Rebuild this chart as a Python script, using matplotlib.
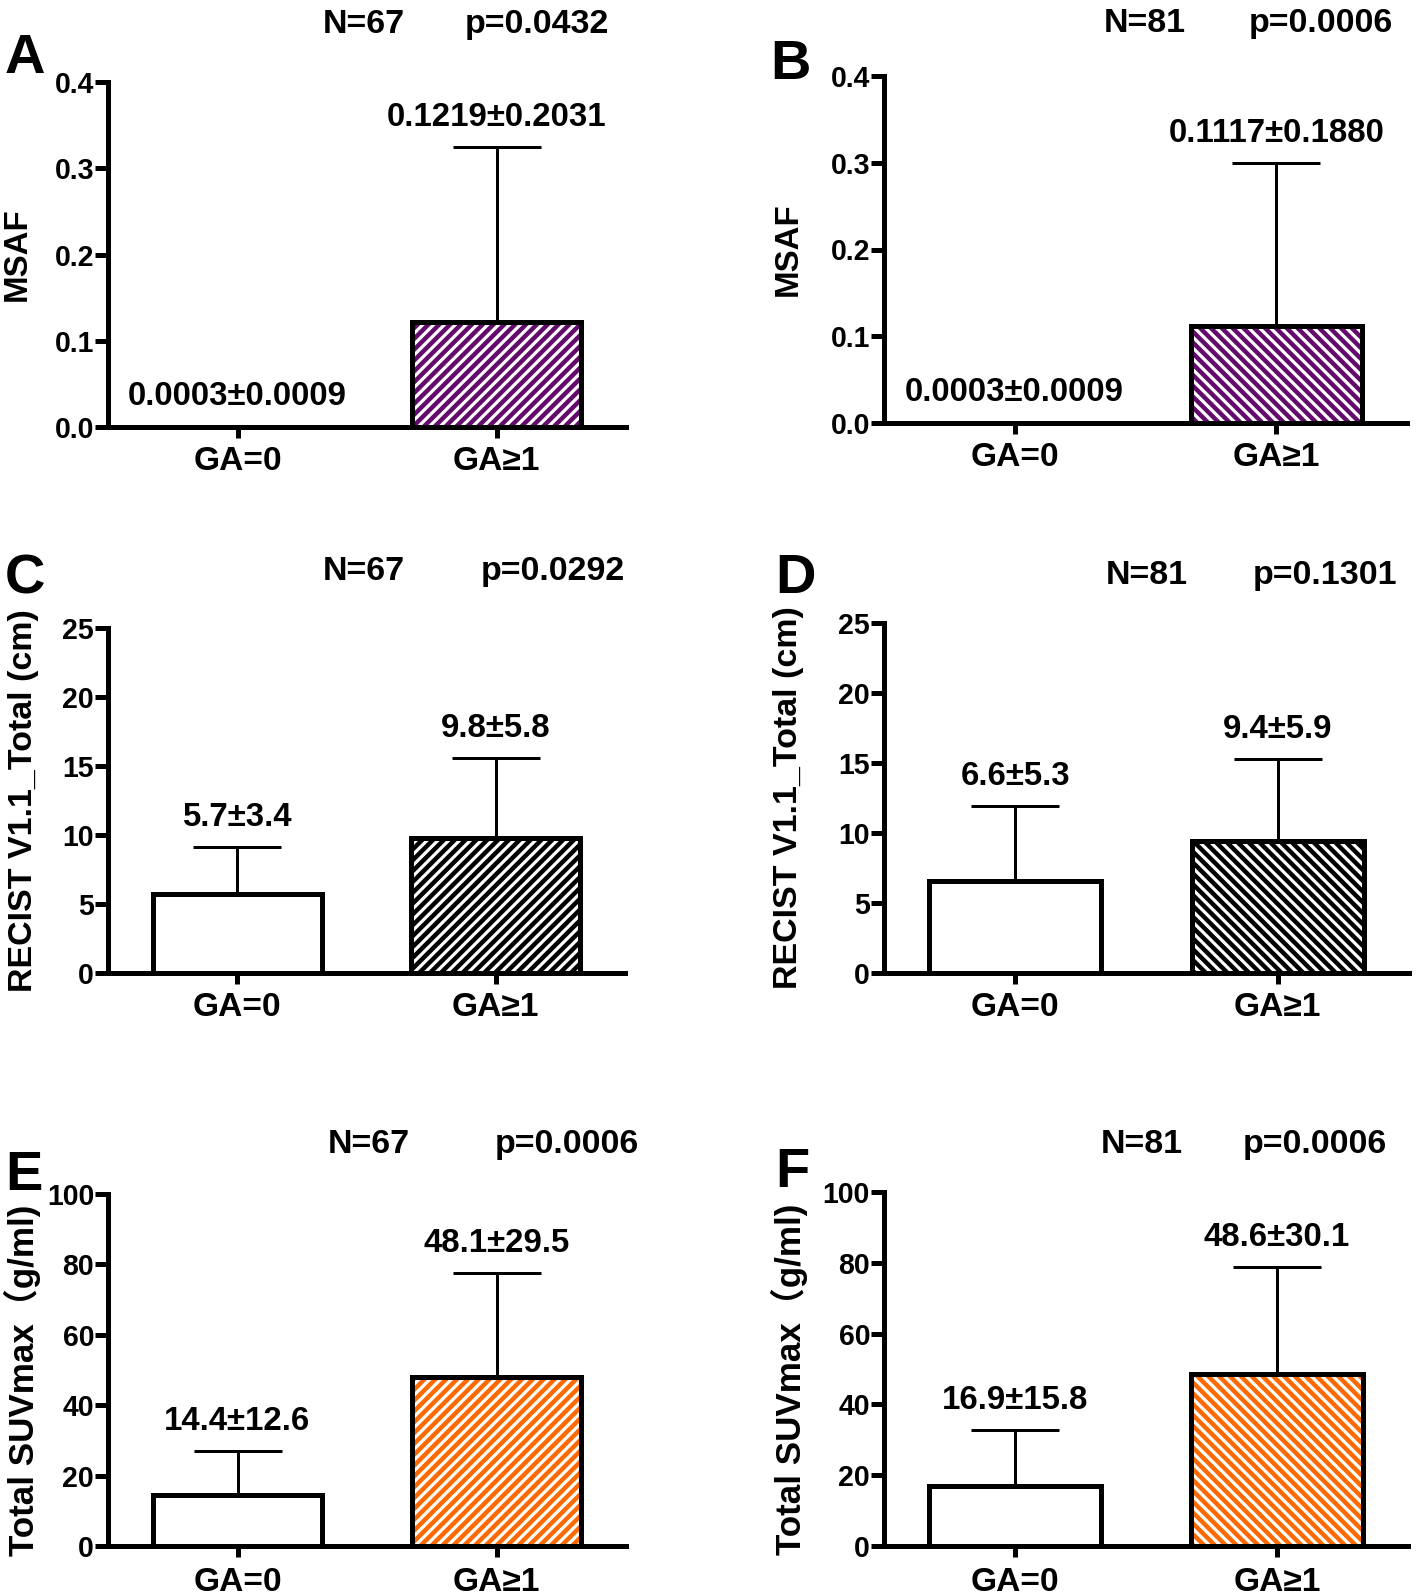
import numpy as np
import matplotlib
matplotlib.use("Agg")
import matplotlib.pyplot as plt

# Data
groups = ["GA=0", "GA\u22651"]

msaf_67_mean = [0.0003, 0.1219]
msaf_67_sd = [0.0009, 0.2031]
msaf_81_mean = [0.0003, 0.1117]
msaf_81_sd = [0.0009, 0.1880]

recist_67_mean = [5.7, 9.8]
recist_67_sd = [3.4, 5.8]
recist_81_mean = [6.6, 9.4]
recist_81_sd = [5.3, 5.9]

suv_67_mean = [14.4, 48.1]
suv_67_sd = [12.6, 29.5]
suv_81_mean = [16.9, 48.6]
suv_81_sd = [15.8, 30.1]

n_values = [67, 81, 67, 81, 67, 81]
p_values = ["0.0432", "0.0006", "0.0292", "0.1301", "0.0006", "0.0006"]

DPI = 130
W, H = 1418, 1595


def pt(v):
    # pixel size -> points
    return v * 72 / DPI


plt.rcParams['font.family'] = ['Liberation Sans', 'Noto Sans CJK SC', 'DejaVu Sans']
plt.rcParams['font.weight'] = 'bold'
plt.rcParams['hatch.linewidth'] = pt(3.2)

fig = plt.figure(figsize=(W / DPI, H / DPI), dpi=DPI)

# (left, right, top, bottom) in pixels
boxes = [(108, 626, 82, 427), (884, 1407, 76, 423),
         (108, 625, 628, 973), (884, 1409, 623, 973),
         (108, 626, 1194, 1546), (884, 1408, 1192, 1546)]

panels = [
    ("A", msaf_67_mean, msaf_67_sd, "MSAF", 0.4, 0.1, "#650a6d", "////", "{:.4f}"),
    ("B", msaf_81_mean, msaf_81_sd, "MSAF", 0.4, 0.1, "#650a6d", "\\\\\\\\", "{:.4f}"),
    ("C", recist_67_mean, recist_67_sd, "RECIST V1.1_Total (cm)", 25, 5, "black", "////", "{:.1f}"),
    ("D", recist_81_mean, recist_81_sd, "RECIST V1.1_Total (cm)", 25, 5, "black", "\\\\\\\\", "{:.1f}"),
    ("E", suv_67_mean, suv_67_sd, "Total SUVmax\uff08g/ml)", 100, 20, "#ff6a00", "////", "{:.1f}"),
    ("F", suv_81_mean, suv_81_sd, "Total SUVmax\uff08g/ml)", 100, 20, "#ff6a00", "\\\\\\\\", "{:.1f}"),
]

# title positions: N centre x, p centre x, baseline y (pixels)
title_pos = [(364, 537, 33), (1145, 1321, 32),
             (364, 553, 580), (1147, 1325, 584),
             (369, 567, 1153), (1142, 1315, 1153)]
letter_pos = [(5, 33), (770, 39), (5, 553), (775, 553), (5, 1150), (775, 1147)]
ylabel_gap = [75, 80, 69, 80, 67, 76]
ylabel_size = [33, 33, 34, 34, 35, 35]
ylabel_y = [0.5, 0.5, 0.5, 0.5, 0.47, 0.47]
xlabel_pad = [8, 8, 8, 8, 10, 10]

x = np.arange(len(groups))
bar_w = 0.655

for i, (letter, mean, sd, ylab, ymax, ystep, color, hatch, fmt) in enumerate(panels):
    l, r, t, b = boxes[i]
    ax = fig.add_axes([l / W, 1 - b / H, (r - l) / W, (b - t) / H])

    # GA=0 plain white, GA>=1 hatched
    ax.bar(x[1], mean[1], width=bar_w, color=color, edgecolor="white",
           hatch=hatch, linewidth=0, zorder=2)
    ax.bar(x, mean, width=bar_w, fill=False, edgecolor="black",
           linewidth=pt(5), zorder=3)
    ax.errorbar(x, mean, yerr=[np.zeros(len(sd)), sd], fmt="none", ecolor="black",
                elinewidth=pt(3), capsize=pt(44), capthick=pt(3), zorder=1)

    for xi, m, s in zip(x, mean, sd):
        ax.annotate(fmt.format(m) + "\u00b1" + fmt.format(s), (xi, m + s),
                    xytext=(0, pt(14)), textcoords="offset points",
                    ha="center", va="bottom", fontsize=pt(33), fontweight="bold")

    ax.set_xlim(-0.5, 1.5)
    ax.set_ylim(0, ymax)
    yt = np.arange(0, ymax + ystep / 2, ystep)
    ax.set_yticks(yt)
    if ymax < 1:
        ax.set_yticklabels(["{:.1f}".format(v) for v in yt])
    else:
        ax.set_yticklabels(["{:d}".format(int(round(v))) for v in yt])
    ax.set_xticks(x)
    ax.set_xticklabels(groups)

    for side in ["top", "right"]:
        ax.spines[side].set_visible(False)
    for side in ["left", "bottom"]:
        ax.spines[side].set_linewidth(pt(5))
    ax.tick_params(axis="y", direction="out", length=pt(13), width=pt(5),
                   labelsize=pt(28.5), pad=pt(1))
    ax.tick_params(axis="x", direction="out", length=pt(11), width=pt(5),
                   labelsize=pt(33.5), pad=pt(xlabel_pad[i]))
    for lab in ax.get_xticklabels() + ax.get_yticklabels():
        lab.set_fontweight("bold")

    ax.set_ylabel(ylab, fontsize=pt(ylabel_size[i]), fontweight="bold")
    ax.yaxis.set_label_coords(-ylabel_gap[i] / (r - l), ylabel_y[i])

    nx, px_, ty = title_pos[i]
    fig.text(nx / W, 1 - ty / H, "N=%d" % n_values[i], ha="center", va="baseline",
             fontsize=pt(34), fontweight="bold")
    fig.text(px_ / W, 1 - ty / H, "p=" + p_values[i], ha="center", va="baseline",
             fontsize=pt(34), fontweight="bold")
    lx, ly = letter_pos[i]
    fig.text(lx / W, 1 - ly / H, letter, ha="left", va="top",
             fontsize=pt(56), fontweight="bold")

fig.savefig("out.png", dpi=DPI)
